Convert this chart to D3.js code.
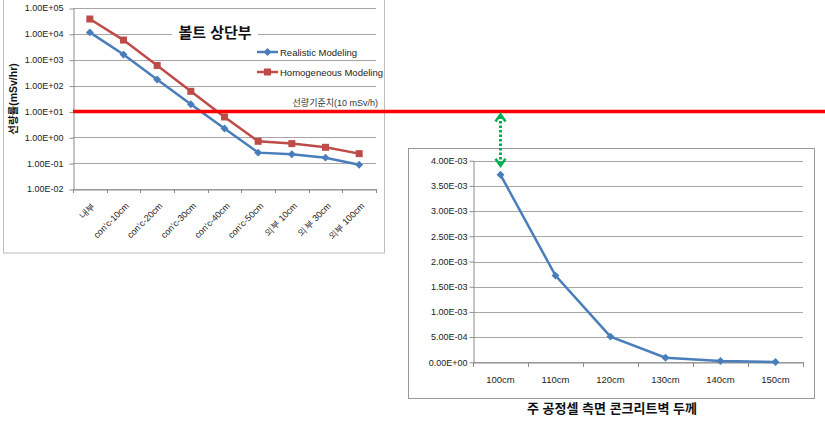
<!DOCTYPE html>
<html><head><meta charset="utf-8">
<script src="https://cdn.jsdelivr.net/npm/d3@7"></script>
<style>
html,body{margin:0;padding:0;background:#fff;}
svg{display:block;font-family:"Liberation Sans","Noto Sans CJK KR",sans-serif;}
</style></head>
<body>
<svg id="c" width="825" height="421"></svg>
<script>
// ---- Left chart data ----
const leftCategories = ["내부","con'c-10cm","con'c-20cm","con'c-30cm","con'c-40cm","con'c-50cm","외부 10cm","외부 30cm","외부 100cm"];
const realisticValues = [11400, 1600, 172, 19, 2.2, 0.255, 0.22, 0.163, 0.087];
const homogeneousValues = [37500, 5750, 600, 60, 6.1, 0.70, 0.57, 0.41, 0.233];
const leftTickValues = [1e-2, 1e-1, 1e0, 1e1, 1e2, 1e3, 1e4, 1e5];
const leftTickLabels = ["1.00E-02","1.00E-01","1.00E+00","1.00E+01","1.00E+02","1.00E+03","1.00E+04","1.00E+05"];
const limitValue = 10;
// ---- Right chart data ----
const rightCategories = ["100cm","110cm","120cm","130cm","140cm","150cm"];
const rightValues = [0.00372, 0.00172, 0.00051, 0.00009, 0.000025, 0.000005];
const rightTickValues = [0, 0.0005, 0.001, 0.0015, 0.002, 0.0025, 0.003, 0.0035, 0.004];
const rightTickLabels = ["0.00E+00","5.00E-04","1.00E-03","1.50E-03","2.00E-03","2.50E-03","3.00E-03","3.50E-03","4.00E-03"];

const svg = d3.select("#c");
const blue = "#4a7ebb", red = "#be4b48", grid = "#a6a6a6";

// ===== Left chart =====
svg.append("rect").attr("x",3.5).attr("y",-1).attr("width",381).attr("height",254)
  .attr("fill","none").attr("stroke","#bdbdbd").attr("stroke-width",1);

const lx = d3.scaleBand().domain(leftCategories).range([73, 376]);
const ly = d3.scaleLog().domain([1e-2, 1e5]).range([189, 8]);
const L = svg.append("g");

L.selectAll(".g").data(leftTickValues).join("line")
  .attr("x1",73).attr("x2",376)
  .attr("y1",d=>Math.round(ly(d))+0.5).attr("y2",d=>Math.round(ly(d))+0.5)
  .attr("stroke",grid).attr("stroke-width",1);
const lyAxis = d3.axisLeft(ly).tickValues(leftTickValues).tickFormat((d,i)=>leftTickLabels[i]).tickSize(4).tickSizeOuter(0);
const lya = L.append("g").attr("transform","translate(73.5,0)").call(lyAxis);
lya.select(".domain").attr("stroke","#8c8c8c");
lya.selectAll(".tick line").attr("stroke","#8c8c8c").attr("transform","translate(0,0.5)");
lya.selectAll(".tick text").attr("font-size",9).attr("fill","#222").attr("x",-10);
const lxAxis = d3.axisBottom(lx).tickSize(0).tickSizeOuter(0);
const lxa = L.append("g").attr("transform","translate(0,189.5)").call(lxAxis);
lxa.select(".domain").attr("stroke","#8c8c8c");
lxa.selectAll(".tick text").attr("font-size",9).attr("fill","#222")
  .attr("text-anchor","end").attr("dy",0).attr("y",0)
  .attr("transform","translate(6,17) rotate(-45)");
L.selectAll(".bt").data(d3.range(leftCategories.length+1)).join("line")
  .attr("x1",i=>Math.round(73+i*lx.step())+0.5).attr("x2",i=>Math.round(73+i*lx.step())+0.5)
  .attr("y1",189).attr("y2",193).attr("stroke","#8c8c8c");

L.append("rect").attr("x",172).attr("y",22).attr("width",86).attr("height",20).attr("fill","#fff");
L.append("text").attr("x",215).attr("y",38).attr("text-anchor","middle")
  .attr("font-size",15).attr("font-weight","bold").attr("fill","#111").text("볼트 상단부");

const lline = d3.line().x((d,i)=>lx(leftCategories[i])+lx.bandwidth()/2).y(d=>ly(d));
L.append("path").datum(homogeneousValues).attr("d",lline).attr("fill","none").attr("stroke",red).attr("stroke-width",2.5);
L.append("path").datum(realisticValues).attr("d",lline).attr("fill","none").attr("stroke",blue).attr("stroke-width",2.5);
L.selectAll(".hm").data(homogeneousValues).join("rect")
  .attr("x",(d,i)=>lx(leftCategories[i])+lx.bandwidth()/2-3.5).attr("y",d=>ly(d)-3.5)
  .attr("width",7).attr("height",7).attr("fill",red);
const diamond = d3.symbol().type(d3.symbolDiamond2).size(40);
L.selectAll(".rm").data(realisticValues).join("path")
  .attr("d",diamond).attr("fill",blue)
  .attr("transform",(d,i)=>`translate(${lx(leftCategories[i])+lx.bandwidth()/2},${ly(d)})`);

const leg = [{n:"Realistic Modeling",c:blue,y:52,m:"d"},{n:"Homogeneous Modeling",c:red,y:72,m:"s"}];
leg.forEach(o=>{
  L.append("line").attr("x1",257).attr("x2",278).attr("y1",o.y).attr("y2",o.y).attr("stroke",o.c).attr("stroke-width",2.5);
  if(o.m==="d") L.append("path").attr("d",diamond).attr("fill",o.c).attr("transform",`translate(267.5,${o.y})`);
  else L.append("rect").attr("x",264).attr("y",o.y-3.5).attr("width",7).attr("height",7).attr("fill",o.c);
  L.append("text").attr("x",280).attr("y",o.y+3.5).attr("font-size",9.5).attr("fill","#222").text(o.n);
});

L.append("text").attr("transform","translate(17,99) rotate(-90)").attr("text-anchor","middle")
  .attr("font-size",10.5).attr("font-weight","bold").attr("fill","#111").text("선량률(mSv/hr)");

// ===== Right chart =====
svg.append("rect").attr("x",408.5).attr("y",148.5).attr("width",406).attr("height",250)
  .attr("fill","none").attr("stroke","#9a9a9a").attr("stroke-width",1);
const rx = d3.scaleBand().domain(rightCategories).range([473, 803]);
const ry = d3.scaleLinear().domain([0, 0.004]).range([362.3, 160.7]);
const R = svg.append("g");
R.selectAll(".g").data(rightTickValues).join("line")
  .attr("x1",473).attr("x2",803)
  .attr("y1",d=>Math.round(ry(d))+0.5).attr("y2",d=>Math.round(ry(d))+0.5)
  .attr("stroke",grid);
const ryAxis = d3.axisLeft(ry).tickValues(rightTickValues).tickFormat((d,i)=>rightTickLabels[i]).tickSize(4).tickSizeOuter(0);
const rya = R.append("g").attr("transform","translate(473.5,0)").call(ryAxis);
rya.select(".domain").attr("stroke","#8c8c8c");
rya.selectAll(".tick line").attr("stroke","#8c8c8c");
rya.selectAll(".tick text").attr("font-size",9).attr("fill","#222").attr("x",-6);
const rxAxis = d3.axisBottom(rx).tickSize(0).tickSizeOuter(0);
const rxa = R.append("g").attr("transform",`translate(0,${Math.round(ry(0))+0.5})`).call(rxAxis);
rxa.select(".domain").attr("stroke","#8c8c8c");
rxa.selectAll(".tick text").attr("font-size",9.5).attr("fill","#222").attr("y",14);
R.selectAll(".bt").data(d3.range(rightCategories.length+1)).join("line")
  .attr("x1",i=>Math.round(473+i*rx.step())+0.5).attr("x2",i=>Math.round(473+i*rx.step())+0.5)
  .attr("y1",Math.round(ry(0))).attr("y2",Math.round(ry(0))+5).attr("stroke","#8c8c8c");
const rline = d3.line().x((d,i)=>rx(rightCategories[i])+rx.bandwidth()/2).y(d=>ry(d));
R.append("path").datum(rightValues).attr("d",rline).attr("fill","none").attr("stroke",blue).attr("stroke-width",2.5);
R.selectAll(".rm").data(rightValues).join("path")
  .attr("d",diamond).attr("fill",blue)
  .attr("transform",(d,i)=>`translate(${rx(rightCategories[i])+rx.bandwidth()/2},${ry(d)})`);
R.append("text").attr("x",612).attr("y",413).attr("text-anchor","middle")
  .attr("font-size",13).attr("font-weight","bold").attr("fill","#111").text("주 공정셀 측면 콘크리트벽 두께");

// ===== Reference limit line =====
const yLim = ly(limitValue);
svg.append("line").attr("x1",73).attr("x2",825).attr("y1",yLim).attr("y2",yLim)
  .attr("stroke","#ff0000").attr("stroke-width",3.5);
svg.append("text").attr("x",378).attr("y",yLim-5).attr("text-anchor","end")
  .attr("font-size",9).attr("fill","#333").text("선량기준치(10 mSv/h)");

// ===== Green dotted double arrow =====
const ax = rx(rightCategories[0])+rx.bandwidth()/2;
const aTop = yLim+3, aBot = ry(rightValues[0])-9;
const green = "#00b050";
svg.append("line").attr("x1",ax).attr("x2",ax).attr("y1",aTop+2).attr("y2",aBot-2)
  .attr("stroke",green).attr("stroke-width",3).attr("stroke-dasharray","2.5,2");
svg.append("path").attr("d",`M${ax-5},${aTop+7}L${ax},${aTop}L${ax+5},${aTop+7}`)
  .attr("fill","none").attr("stroke",green).attr("stroke-width",2.5);
svg.append("path").attr("d",`M${ax-5},${aBot-7}L${ax},${aBot}L${ax+5},${aBot-7}`)
  .attr("fill","none").attr("stroke",green).attr("stroke-width",2.5);
</script>
</body></html>
